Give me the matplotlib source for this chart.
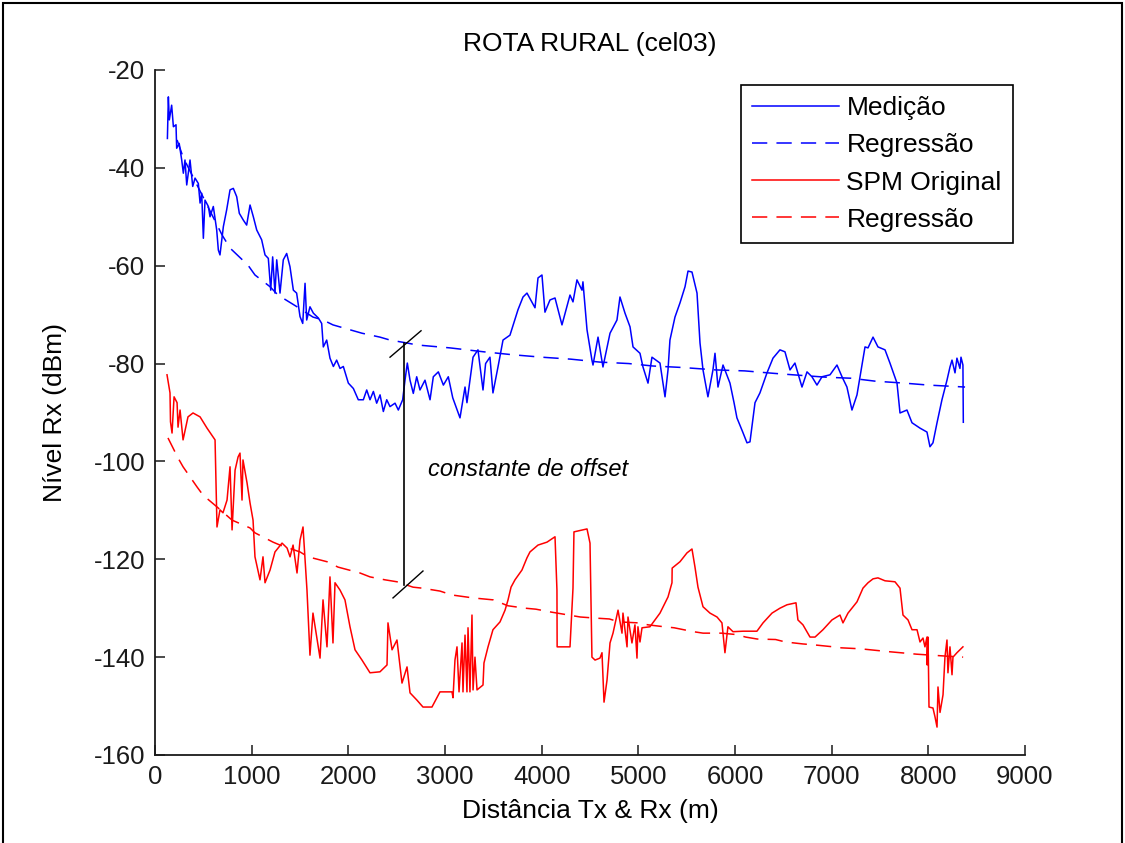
import matplotlib
matplotlib.use("Agg")
import matplotlib.pyplot as plt
import numpy as np
from matplotlib.patches import Rectangle

# Medição (blue, solid): distance (m), level (dBm)
medicao = [
    (128, -34.0), (138, -25.5), (148, -30.2), (172, -27.2), (190, -31.6), (217, -31.2),
    (224, -36.0), (250, -35.0), (276, -38.4), (293, -41.1), (310, -38.4), (328, -43.5),
    (362, -38.4), (390, -43.8), (414, -42.1), (448, -43.2), (466, -47.2), (483, -45.2),
    (500, -54.4), (517, -46.6), (552, -47.9), (569, -50.0), (603, -47.9), (638, -52.7),
    (655, -56.8), (672, -57.8), (707, -52.0), (741, -48.6), (776, -44.5), (810, -44.2),
    (845, -45.9), (872, -49.3), (914, -50.7), (948, -51.7), (983, -47.6), (1017, -50.0),
    (1052, -52.7), (1103, -54.7), (1138, -57.8), (1172, -58.5), (1197, -65.0), (1217, -58.2),
    (1241, -65.6), (1259, -58.8), (1293, -65.6), (1327, -58.8), (1362, -57.5), (1396, -60.2),
    (1431, -65.0), (1465, -65.6), (1500, -70.4), (1528, -71.8), (1552, -63.6), (1569, -71.1),
    (1603, -68.4), (1638, -69.7), (1690, -70.7), (1724, -71.8), (1741, -76.6), (1776, -75.2),
    (1810, -78.9), (1845, -80.6), (1879, -79.3), (1914, -81.0), (1948, -80.6), (2000, -84.0),
    (2052, -85.1), (2103, -87.4), (2155, -87.4), (2190, -85.4), (2224, -87.4), (2259, -85.7),
    (2293, -88.1), (2328, -86.4), (2362, -89.8), (2397, -87.4), (2431, -88.8), (2483, -88.1),
    (2517, -89.5), (2562, -87.4), (2586, -83.4), (2610, -79.9), (2638, -83.4), (2672, -86.1),
    (2707, -82.7), (2741, -85.4), (2793, -83.4), (2845, -87.4), (2879, -82.7), (2931, -81.7),
    (2983, -84.4), (3034, -82.7), (3080, -87.0), (3155, -91.1), (3207, -84.8), (3227, -88.0),
    (3290, -78.7), (3341, -77.2), (3393, -85.4), (3420, -80.0), (3465, -78.7), (3496, -86.0),
    (3548, -80.7), (3600, -75.2), (3672, -74.2), (3755, -69.0), (3807, -66.4), (3848, -65.6),
    (3931, -68.6), (3962, -62.5), (4003, -61.9), (4034, -69.5), (4086, -67.0), (4138, -66.6),
    (4210, -72.1), (4293, -66.0), (4324, -67.4), (4365, -62.9), (4417, -65.0), (4427, -63.3),
    (4469, -73.1), (4520, -79.3), (4531, -80.3), (4583, -74.6), (4634, -80.7), (4707, -73.8),
    (4779, -71.1), (4810, -66.4), (4862, -69.7), (4914, -72.5), (4945, -76.6), (5017, -77.9),
    (5048, -80.7), (5100, -84.0), (5141, -78.7), (5224, -79.9), (5276, -86.8), (5307, -81.3),
    (5327, -75.2), (5379, -70.5), (5431, -67.6), (5483, -64.3), (5514, -61.1), (5555, -61.3),
    (5607, -65.6), (5638, -75.8), (5669, -81.3), (5720, -86.8), (5772, -81.3), (5793, -77.9),
    (5824, -84.8), (5876, -80.3), (5948, -84.0), (5990, -88.0), (6020, -91.1), (6080, -94.0),
    (6124, -96.2), (6155, -96.0), (6207, -88.0), (6258, -86.0), (6331, -81.9), (6393, -78.9),
    (6465, -77.2), (6517, -77.6), (6569, -81.3), (6620, -79.9), (6693, -84.8), (6745, -81.7),
    (6796, -82.7), (6848, -84.4), (6900, -82.7), (6983, -82.3), (7055, -80.3), (7107, -82.7),
    (7158, -84.8), (7210, -89.5), (7262, -86.4), (7314, -80.3), (7345, -76.6), (7376, -76.8),
    (7428, -74.6), (7479, -76.6), (7552, -77.2), (7603, -79.9), (7676, -84.0), (7707, -90.1),
    (7779, -89.5), (7831, -92.1), (7914, -93.2), (7986, -94.0), (8017, -97.0), (8048, -96.2),
    (8090, -92.1), (8141, -87.4), (8193, -83.4), (8224, -80.7), (8245, -79.3), (8276, -81.9),
    (8296, -78.9), (8327, -81.0), (8338, -78.7), (8358, -80.3), (8362, -92.0),
]

# Regressão of the measurement (blue, dashed)
reg_medicao = [
    (228, -34.3), (290, -37.8), (693, -53.7), (776, -56.4), (962, -59.9), (1034, -61.9),
    (1190, -64.3), (1272, -66.0), (1469, -68.4), (1634, -70.5), (1738, -71.1), (1841, -72.1),
    (2017, -73.1), (2141, -73.8), (2327, -74.6), (2431, -75.2), (2607, -75.8), (2710, -76.2),
    (3052, -76.8), (3400, -77.6), (3700, -78.2), (4000, -78.7), (4300, -79.1), (4600, -79.7),
    (4900, -80.0), (5150, -80.5), (5450, -80.8), (5800, -81.3), (6100, -81.5), (6400, -82.0),
    (6600, -82.3), (6950, -82.8), (7200, -83.0), (7450, -83.6), (7750, -84.0), (8000, -84.4),
    (8380, -84.8),
]

# SPM Original (red, solid)
spm = [
    (124, -82.3), (155, -86.0), (160, -91.9), (176, -94.2), (197, -86.8), (228, -88.0),
    (238, -93.0), (259, -89.5), (290, -95.6), (341, -90.9), (393, -90.1), (466, -90.9),
    (538, -93.2), (621, -95.6), (641, -113.4), (672, -109.9), (703, -110.5), (745, -107.9),
    (776, -101.1), (797, -114.0), (828, -101.8), (859, -99.1), (879, -98.3), (900, -107.9),
    (910, -99.7), (952, -104.4), (983, -108.5), (1014, -112.0), (1034, -119.5), (1086, -124.2),
    (1117, -119.5), (1138, -124.8), (1190, -122.2), (1241, -118.5), (1314, -116.7), (1366, -117.7),
    (1397, -119.5), (1428, -117.1), (1469, -122.8), (1500, -116.1), (1531, -113.4), (1572, -126.3),
    (1603, -139.6), (1634, -131.0), (1707, -140.2), (1738, -128.3), (1779, -137.9), (1810, -123.6),
    (1841, -137.1), (1862, -124.8), (1914, -126.3), (1965, -128.3), (2017, -133.8), (2069, -138.5),
    (2141, -140.6), (2224, -143.2), (2327, -143.0), (2400, -141.6), (2410, -133.0), (2452, -138.5),
    (2503, -136.5), (2555, -145.3), (2607, -142.0), (2638, -147.3), (2710, -148.8), (2772, -150.2),
    (2865, -150.2), (2948, -147.1), (3072, -147.1), (3083, -148.3), (3103, -140.6), (3124, -137.9),
    (3145, -147.1), (3176, -137.1), (3186, -147.1), (3207, -135.5), (3227, -147.1), (3238, -134.0),
    (3258, -147.1), (3279, -131.4), (3290, -146.7), (3310, -140.0), (3331, -146.7), (3393, -145.7),
    (3403, -141.2), (3445, -137.9), (3496, -134.4), (3569, -132.8), (3621, -130.4), (3652, -128.3),
    (3683, -125.7), (3724, -124.2), (3796, -122.2), (3848, -119.7), (3879, -118.5), (3962, -117.1),
    (4055, -116.5), (4138, -115.4), (4158, -126.3), (4160, -137.9), (4293, -137.9), (4324, -125.9),
    (4334, -114.4), (4469, -113.8), (4500, -116.7), (4520, -140.0), (4552, -140.6), (4603, -140.2),
    (4624, -139.1), (4645, -149.2), (4676, -144.7), (4707, -137.1), (4738, -135.1), (4779, -131.4),
    (4790, -130.4), (4831, -135.1), (4841, -131.0), (4883, -137.9), (4893, -131.8), (4934, -137.1),
    (4965, -133.4), (4986, -140.2), (4996, -133.8), (5017, -136.9), (5038, -134.0), (5120, -133.8),
    (5224, -131.0), (5307, -127.7), (5348, -124.8), (5350, -121.8), (5431, -120.5), (5503, -118.7),
    (5555, -117.9), (5586, -121.6), (5617, -125.7), (5669, -129.7), (5741, -131.0), (5814, -131.8),
    (5865, -133.0), (5876, -135.1), (5896, -139.1), (5917, -135.5), (5927, -133.8), (5979, -134.8),
    (6083, -134.7), (6227, -134.7), (6290, -133.0), (6383, -131.0), (6465, -130.0), (6538, -129.3),
    (6631, -128.9), (6651, -132.4), (6703, -133.4), (6776, -135.9), (6828, -135.9), (6910, -134.4),
    (7003, -132.4), (7086, -131.4), (7117, -133.0), (7169, -131.0), (7262, -128.7), (7324, -125.9),
    (7376, -124.8), (7428, -124.0), (7479, -123.8), (7552, -124.4), (7655, -124.6), (7707, -125.9),
    (7738, -131.4), (7790, -132.4), (7831, -134.4), (7883, -134.4), (7914, -136.9), (7945, -136.1),
    (7965, -137.9), (7986, -135.9), (7988, -141.6), (7996, -135.9), (8000, -139.8), (8007, -150.2),
    (8048, -150.4), (8069, -152.2), (8090, -154.3), (8100, -146.1), (8121, -151.3), (8152, -147.7),
    (8172, -140.0), (8193, -136.5), (8203, -143.2), (8224, -137.9), (8245, -143.6), (8255, -140.0),
    (8296, -139.1), (8358, -137.9),
]

# Regressão of the SPM (red, dashed)
reg_spm = [
    (134, -95.2), (238, -99.3), (290, -101.1), (434, -105.2), (497, -106.9), (641, -109.3),
    (797, -112.0), (983, -113.6), (1034, -114.6), (1221, -116.5), (1293, -117.1), (1500, -118.5),
    (1583, -119.5), (1779, -120.5), (1893, -121.6), (2120, -122.8), (2224, -123.6), (2379, -124.2),
    (2503, -124.6), (2669, -125.7), (2762, -125.9), (2948, -126.5), (3072, -127.3), (3290, -127.9),
    (3500, -128.3), (3650, -129.5), (3830, -130.0), (3940, -130.2), (4100, -130.8), (4220, -131.2),
    (4400, -131.8), (4540, -132.0), (4700, -132.2), (4800, -132.8), (5000, -133.0), (5100, -133.4),
    (5270, -133.8), (5370, -134.0), (5570, -134.8), (5670, -135.1), (5860, -135.1), (6020, -135.4),
    (6110, -135.9), (6230, -136.3), (6420, -136.4), (6520, -136.9), (6700, -137.3), (6820, -137.5),
    (7020, -137.9), (7100, -138.1), (7300, -138.3), (7600, -138.9), (7880, -139.4), (8190, -139.8),
    (8360, -140.0),
]

# offset marker: vertical bar between the two regressions, with slashes at both ends
offset_x = 2576
offset_y = (-75.8, -125.2)
slash_top = [(2431, -78.7), (2752, -73.3)]
slash_bottom = [(2462, -127.9), (2772, -122.4)]

x_ticks = np.arange(0, 9001, 1000)
y_ticks = np.arange(-160, -19, 20)

plt.rcParams['font.family'] = ['Liberation Sans', 'DejaVu Sans']
plt.rcParams['axes.unicode_minus'] = False
fs = 19

fig = plt.figure(figsize=(11.25, 8.43), dpi=100)
ax = fig.add_axes([0.1378, 0.1044, 0.7733, 0.8126])

dash = (0, (10, 6))
mx, my = np.array(medicao).T
ax.plot(mx, my, color='blue', lw=1.1, label='Medição')
rx, ry = np.array(reg_medicao).T
ax.plot(rx, ry, color='blue', lw=1.1, linestyle=dash, label='Regressão')
sx, sy = np.array(spm).T
ax.plot(sx, sy, color='red', lw=1.1, label='SPM Original')
qx, qy = np.array(reg_spm).T
ax.plot(qx, qy, color='red', lw=1.1, linestyle=dash, label='Regressão')

ax.plot([offset_x, offset_x], offset_y, color='black', lw=1.2)
for s in (slash_top, slash_bottom):
    px, py = np.array(s).T
    ax.plot(px, py, color='black', lw=1.0)
ax.text(2824, -101.7, 'constante de offset', fontsize=17, style='italic',
        va='center', ha='left')

ax.set_xlim(0, 9000)
ax.set_ylim(-160, -20)
ax.set_xticks(x_ticks)
ax.set_yticks(y_ticks)
ax.tick_params(direction='in', length=7, width=1.1, labelsize=18.5, pad=7, colors='#1a1a1a')
for side in ('top', 'right'):
    ax.spines[side].set_visible(False)
for side in ('left', 'bottom'):
    ax.spines[side].set_linewidth(1.3)
    ax.spines[side].set_color('#1a1a1a')

ax.set_title('ROTA RURAL (cel03)', fontsize=fs, pad=14)
ax.set_xlabel('Distância Tx & Rx (m)', fontsize=fs)
ax.set_ylabel('Nível Rx (dBm)', fontsize=fs)
ax.xaxis.set_label_coords(0.5, -0.064)
ax.yaxis.set_label_coords(-0.101, 0.5)

leg = ax.legend(loc='upper right', bbox_to_anchor=(0.986, 0.978), borderaxespad=0,
                fontsize=fs, fancybox=False, framealpha=1, edgecolor='black',
                handlelength=3.3, handletextpad=0.27, labelspacing=0.5, borderpad=0.42)
leg.get_frame().set_linewidth(1.2)

# outer frame of the screenshot
fig.patches.append(Rectangle((0.003, -0.05), 0.994, 1.0464, transform=fig.transFigure,
                             fill=False, edgecolor='black', lw=1.5))

fig.savefig('out.png', dpi=100)
